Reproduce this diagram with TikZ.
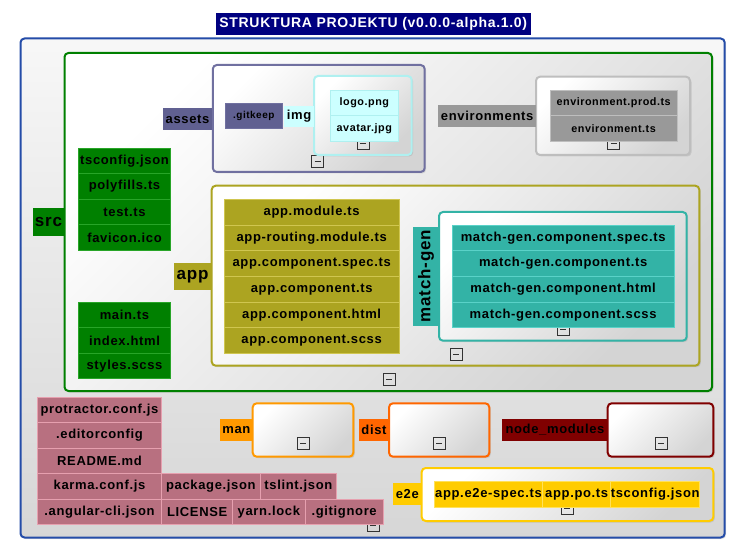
\documentclass[tikz,border=0pt]{standalone}
\usepackage{fontspec}
\setmainfont{Liberation Sans}[LetterSpace=5]
\usetikzlibrary{shadows}

\definecolor{titlenavy}{RGB}{0,0,128}
\definecolor{rootblue}{RGB}{36,76,168}
\definecolor{srcgreen}{RGB}{0,128,0}
\definecolor{srcgreenedge}{RGB}{40,165,40}
\definecolor{slatefill}{RGB}{96,96,145}
\definecolor{slateedge}{RGB}{112,112,160}
\definecolor{icecyan}{RGB}{204,255,255}
\definecolor{iceedge}{RGB}{175,240,240}
\definecolor{envgray}{RGB}{153,153,153}
\definecolor{envedge}{RGB}{190,190,190}
\definecolor{appolive}{RGB}{172,164,33}
\definecolor{appoliveedge}{RGB}{208,198,80}
\definecolor{mgteal}{RGB}{51,179,166}
\definecolor{mgtealedge}{RGB}{90,210,200}
\definecolor{rosefill}{RGB}{184,112,128}
\definecolor{roseedge}{RGB}{230,160,175}
\definecolor{manorange}{RGB}{255,153,0}
\definecolor{distorange}{RGB}{255,102,0}
\definecolor{nmmaroon}{RGB}{128,0,0}
\definecolor{e2eyellow}{RGB}{255,204,0}
\definecolor{e2eedge}{RGB}{255,225,90}

\newcommand{\cellfont}{\fontsize{13}{15}\selectfont\bfseries}
\newcommand{\smallcellfont}{\fontsize{10.8}{13}\selectfont\bfseries}
\newcommand{\tagfont}{\fontsize{13}{15}\selectfont\bfseries}
\newcommand{\bigtagfont}{\fontsize{17}{19}\selectfont\bfseries}

\begin{document}
\begin{tikzpicture}[x=1pt,y=-1pt,
  box/.style={anchor=north west, inner sep=0pt, outer sep=0pt},
  folder/.style={box, rounded corners=4pt, line width=2pt,
    top color=white, bottom color=black!17, shading angle=45,
    drop shadow={shadow xshift=1.5pt, shadow yshift=-1.5pt, opacity=0.22}},
  cell/.style={box, font=\cellfont, text=black, line width=0.8pt},
  smallcell/.style={cell, font=\smallcellfont},
  tag/.style={box, font=\tagfont, text=black},
  bigtag/.style={box, font=\bigtagfont, text=black},
  collapse/.style={draw=black!80, line width=0.9pt, minimum size=12pt,
    inner sep=0pt, outer sep=0pt,
    path picture={\draw[black!80, line width=0.9pt]
      ([xshift=3pt]path picture bounding box.west) --
      ([xshift=-3pt]path picture bounding box.east);}},
  gcell/.style={cell, fill=srcgreen, draw=srcgreenedge, minimum width=92.4pt, minimum height=25.5pt},
  ocell/.style={cell, fill=appolive, draw=appoliveedge, minimum width=174.7pt, minimum height=25.67pt},
  tcell/.style={cell, fill=mgteal, draw=mgtealedge, minimum width=221.7pt, minimum height=25.67pt},
  icell/.style={smallcell, fill=icecyan, draw=iceedge, minimum width=68pt, minimum height=25.5pt},
  ecell/.style={smallcell, fill=envgray, draw=envedge, minimum width=127.3pt, minimum height=25.5pt},
  pcell/.style={cell, fill=rosefill, draw=roseedge, minimum height=25.5pt},
  ycell/.style={cell, fill=e2eyellow, draw=e2eedge, minimum height=25.7pt},
]
\useasboundingbox (0,0) rectangle (738,553);

% title banner
\node[box, fill=titlenavy, text=white, font=\fontsize{14}{16}\selectfont\bfseries,
  minimum width=315.5pt, minimum height=21.7pt] (title) at (215.5,13.3)
  {STRUKTURA PROJEKTU (v0.0.0-alpha.1.0)};

% project root
\node[folder, draw=rootblue, top color=white!97!black, bottom color=black!16,
  minimum width=704.2pt, minimum height=499pt] (root) at (20.5,38.5) {};
\node[collapse] (rootcol) at (373,525) {};

% ---------- src ----------
\node[folder, draw=srcgreen, minimum width=647.5pt, minimum height=338pt] (src) at (64.5,53) {};
\node[collapse] (srccol) at (389,379) {};
\node[bigtag, fill=srcgreen, minimum width=30.5pt, minimum height=27.4pt] (srctag) at (33.3,208.3) {src};

\node[gcell] (tsconfig) at (78.3,148.3) {tsconfig.json};
\node[gcell] (polyfills) at (78.3,173.8) {polyfills.ts};
\node[gcell] (testts) at (78.3,199.3) {test.ts};
\node[gcell] (favicon) at (78.3,224.8) {favicon.ico};

\node[gcell] (maints) at (78.3,302.3) {main.ts};
\node[gcell] (indexhtml) at (78.3,327.8) {index.html};
\node[gcell] (stylesscss) at (78.3,353.3) {styles.scss};

% assets
\node[folder, draw=slateedge, minimum width=211.9pt, minimum height=107pt] (assets) at (212.8,65) {};
\node[collapse] (assetscol) at (317.7,161.3) {};
\node[tag, fill=slatefill, minimum width=48.4pt, minimum height=21.7pt] (assetstag) at (163.3,108.3) {assets};
\node[cell, fill=slatefill, draw=slateedge, font=\fontsize{10}{12}\selectfont\bfseries,
  minimum width=57pt, minimum height=25pt] (gitkeep) at (225.3,103.3) {.gitkeep};

% img
\node[folder, draw=iceedge, minimum width=97.7pt, minimum height=79pt] (img) at (314,76) {};
\node[collapse] (imgcol) at (363,143) {};
\node[tag, fill=icecyan, minimum width=29.7pt, minimum height=21pt] (imgtag) at (284.3,105.7) {img};
\node[icell] (logopng) at (330.3,90) {logo.png};
\node[icell] (avatarjpg) at (330.3,115.5) {avatar.jpg};

% environments
\node[folder, draw=envedge, minimum width=154pt, minimum height=78.3pt] (environments) at (536,76.7) {};
\node[collapse] (envcol) at (613.7,143) {};
\node[tag, fill=envgray, minimum width=97.7pt, minimum height=21.7pt] (envtag) at (438.3,105) {environments};
\node[ecell] (envprod) at (550,90) {environment.prod.ts};
\node[ecell] (envdev) at (550,115.5) {environment.ts};

% app
\node[folder, draw=appolive, minimum width=487.6pt, minimum height=180pt] (app) at (211.7,185.7) {};
\node[collapse] (appcol) at (456,354) {};
\node[bigtag, fill=appolive, minimum width=36.7pt, minimum height=26.4pt] (apptag) at (174.3,263.3) {app};

\node[ocell] (appmodule) at (224.3,199.3) {app.module.ts};
\node[ocell] (approuting) at (224.3,224.97) {app-routing.module.ts};
\node[ocell] (appspec) at (224.3,250.64) {app.component.spec.ts};
\node[ocell] (appcompts) at (224.3,276.31) {app.component.ts};
\node[ocell] (apphtml) at (224.3,301.98) {app.component.html};
\node[ocell] (appscss) at (224.3,327.65) {app.component.scss};

% match-gen
\node[folder, draw=mgteal, minimum width=247.7pt, minimum height=128.7pt] (matchgen) at (439,212) {};
\node[collapse] (mgcol) at (563,329) {};
\node[fill=mgteal, rotate=90, font=\bigtagfont, text=black, inner sep=0pt, outer sep=0pt,
  minimum width=99pt, minimum height=25.4pt] (mgtag) at (426,276.2) {match-gen};

\node[tcell] (mgspec) at (452.3,225) {match-gen.component.spec.ts};
\node[tcell] (mgts) at (452.3,250.67) {match-gen.component.ts};
\node[tcell] (mghtml) at (452.3,276.34) {match-gen.component.html};
\node[tcell] (mgscss) at (452.3,302.01) {match-gen.component.scss};

% ---------- root files ----------
\node[pcell, minimum width=124.4pt] (protractor) at (37.3,397.3) {protractor.conf.js};
\node[pcell, minimum width=124.4pt] (editorconfig) at (37.3,422.8) {.editorconfig};
\node[pcell, minimum width=124.4pt] (readme) at (37.3,448.3) {README.md};
\node[pcell, minimum width=124.4pt] (karma) at (37.3,473.8) {karma.conf.js};
\node[pcell, minimum width=124.4pt] (angularcli) at (37.3,499.3) {.angular-cli.json};
\node[pcell, minimum width=98.3pt] (packagejson) at (161.7,473.8) {package.json};
\node[pcell, minimum width=76.7pt] (tslint) at (260,473.8) {tslint.json};
\node[pcell, minimum width=71pt] (license) at (161.7,499.3) {LICENSE};
\node[pcell, minimum width=72.3pt] (yarnlock) at (232.7,499.3) {yarn.lock};
\node[pcell, minimum width=78.3pt] (gitignore) at (305,499.3) {.gitignore};

% man
\node[folder, draw=manorange, minimum width=100.6pt, minimum height=53.4pt] (man) at (252.7,403.3) {};
\node[collapse] (mancol) at (303,443.3) {};
\node[tag, fill=manorange, minimum width=32.7pt, minimum height=21.7pt] (mantag) at (220,419.3) {man};

% dist
\node[folder, draw=distorange, minimum width=100.3pt, minimum height=53.4pt] (dist) at (389,403.3) {};
\node[collapse] (distcol) at (439,443.7) {};
\node[tag, fill=distorange, minimum width=30pt, minimum height=22pt] (disttag) at (359,419) {dist};

% node_modules
\node[folder, draw=nmmaroon, minimum width=105.6pt, minimum height=53.4pt] (nodemodules) at (607.7,403.3) {};
\node[collapse] (nmcol) at (661,443.7) {};
\node[tag, fill=nmmaroon, minimum width=105.4pt, minimum height=22pt] (nmtag) at (502.3,419) {node\_modules};

% e2e
\node[folder, draw=e2eyellow, minimum width=291.6pt, minimum height=53pt] (e2e) at (421.7,468) {};
\node[collapse] (e2ecol) at (567,508) {};
\node[tag, fill=e2eyellow, minimum width=28.7pt, minimum height=21.7pt] (e2etag) at (393,483.3) {e2e};
\node[ycell, minimum width=108.4pt] (e2espec) at (434.3,481.3) {app.e2e-spec.ts};
\node[ycell, minimum width=68pt] (apppo) at (542.7,481.3) {app.po.ts};
\node[ycell, minimum width=89pt] (e2etsconfig) at (610.7,481.3) {tsconfig.json};
\end{tikzpicture}
\end{document}
